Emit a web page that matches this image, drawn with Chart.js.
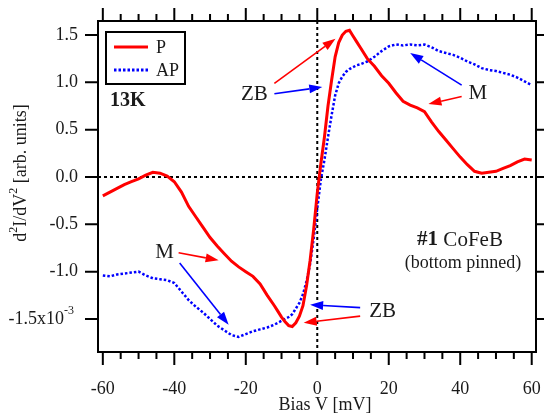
<!DOCTYPE html>
<html>
<head>
<meta charset="utf-8">
<script src="https://cdn.jsdelivr.net/npm/chart.js@4.4.0/dist/chart.umd.min.js"></script>
<style>
  html, body { margin: 0; padding: 0; background: #fff; }
  #wrap { width: 544px; height: 419px; }
</style>
</head>
<body>
<div id="wrap"><canvas id="iets"></canvas></div>
<script>
// Bias voltage (mV), finer steps around zero bias
const biasV = [-60, -58, -56, -54, -52, -50, -48, -46, -44, -42, -40, -38, -36, -34, -32, -30, -28, -26, -24, -22, -20, -18, -16, -14,
    -12, -11, -10, -9, -8, -7, -6, -5, -4, -3, -2, -1, 0, 1, 2, 3, 4, 5, 6, 7, 8, 9, 10, 11, 12,
    14, 16, 18, 20, 22, 24, 26, 28, 30, 32, 34, 36, 38, 40, 42, 44, 46, 48, 50, 52, 54, 56, 58, 60];

// d2I/dV2 in units of 1e-3
const pCurve = [-0.20, -0.16, -0.12, -0.08, -0.05, -0.02, 0.02, 0.05, 0.04, 0.01, -0.05, -0.16, -0.31, -0.42, -0.53, -0.64, -0.73, -0.81, -0.89, -0.95, -1.00, -1.05, -1.13, -1.25,
    -1.36, -1.42, -1.48, -1.53, -1.57, -1.58, -1.54, -1.47, -1.36, -1.15, -0.88, -0.55, -0.17, 0.14, 0.42, 0.75, 1.02, 1.27, 1.42, 1.50, 1.54, 1.55, 1.49, 1.43, 1.37,
    1.25, 1.17, 1.07, 0.99, 0.89, 0.80, 0.76, 0.73, 0.69, 0.58, 0.48, 0.39, 0.30, 0.21, 0.13, 0.06, 0.04, 0.05, 0.06, 0.09, 0.12, 0.16, 0.19, 0.18];

const apCurve = [-1.04, -1.05, -1.03, -1.02, -1.01, -1.00, -1.04, -1.07, -1.08, -1.09, -1.12, -1.21, -1.30, -1.37, -1.43, -1.50, -1.57, -1.62, -1.67, -1.69, -1.66, -1.63, -1.61, -1.59,
    -1.56, -1.54, -1.52, -1.50, -1.48, -1.45, -1.39, -1.33, -1.24, -1.10, -0.92, -0.65, -0.33, -0.03, 0.18, 0.42, 0.65, 0.86, 0.99, 1.06, 1.11, 1.14, 1.16, 1.18, 1.19,
    1.22, 1.27, 1.33, 1.38, 1.40, 1.39, 1.40, 1.39, 1.40, 1.37, 1.33, 1.31, 1.29, 1.26, 1.22, 1.19, 1.15, 1.13, 1.12, 1.10, 1.08, 1.05, 1.01, 0.97];

const xTicks = [-60, -40, -20, 0, 20, 40, 60];
const xMinorTicks = [-55, -50, -45, -35, -30, -25, -15, -10, -5, 5, 10, 15, 25, 30, 35, 45, 50, 55];
const yTicks = [-1.5, -1.0, -0.5, 0.0, 0.5, 1.0, 1.5];

// labels and arrows, placed in data coordinates
const notes = [
    { text: 'ZB', v: -17.6, val: 0.87 },
    { text: 'M', v: 44.9, val: 0.88 },
    { text: 'M', v: -42.7, val: -0.80 },
    { text: 'ZB', v: 18.3, val: -1.42 }
];
const arrows = [
    { from: [-12.0, 0.99], to: [5.1, 1.46], color: '#ff0000' },
    { from: [-12.0, 0.88], to: [1.4, 0.95], color: '#0000ff' },
    { from: [40.4, 0.97], to: [26.0, 1.31], color: '#0000ff' },
    { from: [40.4, 0.85], to: [31.1, 0.77], color: '#ff0000' },
    { from: [-38.8, -0.80], to: [-27.6, -0.88], color: '#ff0000' },
    { from: [-38.5, -0.91], to: [-24.8, -1.56], color: '#0000ff' },
    { from: [12.0, -1.38], to: [-2.0, -1.35], color: '#0000ff' },
    { from: [12.0, -1.47], to: [-3.8, -1.54], color: '#ff0000' }
];

const serif = '"Liberation Serif", "Times New Roman", serif';
const ink = '#1a1a1a';

function toPoints(ys) {
    return biasV.map((v, i) => ({ x: v, y: ys[i] }));
}

// keep the plot frame where the reference has it
function pinAxis(scale, size) {
    if (scale.isHorizontal()) scale.height = size;
    else scale.width = size;
    scale.paddingLeft = 0;
    scale.paddingRight = 0;
    scale.paddingTop = 0;
    scale.paddingBottom = 0;
}

function drawArrow(ctx, x1, y1, x2, y2, color) {
    const a = Math.atan2(y2 - y1, x2 - x1);
    const len = 13, half = 4.5;
    const bx = x2 - len * Math.cos(a), by = y2 - len * Math.sin(a);
    ctx.save();
    ctx.strokeStyle = color;
    ctx.fillStyle = color;
    ctx.lineWidth = 1.6;
    ctx.beginPath();
    ctx.moveTo(x1, y1);
    ctx.lineTo(bx, by);
    ctx.stroke();
    ctx.beginPath();
    ctx.moveTo(x2, y2);
    ctx.lineTo(bx + half * Math.sin(a), by - half * Math.cos(a));
    ctx.lineTo(bx - half * Math.sin(a), by + half * Math.cos(a));
    ctx.closePath();
    ctx.fill();
    ctx.restore();
}

const decor = {
    id: 'decor',
    beforeDatasetsDraw(chart) {
        const { ctx, chartArea: a, scales: { x, y } } = chart;
        const x0 = x.getPixelForValue(0), y0 = y.getPixelForValue(0);
        ctx.save();
        ctx.strokeStyle = '#000';
        ctx.lineWidth = 2;
        ctx.setLineDash([3, 3]);
        ctx.beginPath();
        ctx.moveTo(x0, a.top);
        ctx.lineTo(x0, a.bottom);
        ctx.moveTo(a.left, y0);
        ctx.lineTo(a.right, y0);
        ctx.stroke();
        ctx.restore();
    },
    afterDraw(chart) {
        const { ctx, chartArea: a, scales: { x, y } } = chart;
        ctx.save();

        // frame
        ctx.strokeStyle = '#000';
        ctx.lineWidth = 2;
        ctx.strokeRect(a.left, a.top, a.right - a.left, a.bottom - a.top);

        // outward ticks on all four sides
        ctx.beginPath();
        xTicks.concat(xMinorTicks).forEach(v => {
            const px = x.getPixelForValue(v);
            const len = xTicks.includes(v) ? 13 : 7;
            ctx.moveTo(px, a.bottom);
            ctx.lineTo(px, a.bottom + len);
            ctx.moveTo(px, a.top);
            ctx.lineTo(px, a.top - len);
        });
        yTicks.forEach(v => {
            const py = y.getPixelForValue(v);
            ctx.moveTo(a.left, py);
            ctx.lineTo(a.left - 13, py);
            ctx.moveTo(a.right, py);
            ctx.lineTo(a.right + 13, py);
        });
        ctx.stroke();

        // bottom y tick label with exponent
        const yb = y.getPixelForValue(-1.5);
        ctx.fillStyle = ink;
        ctx.textBaseline = 'middle';
        ctx.textAlign = 'right';
        ctx.font = '18px ' + serif;
        ctx.fillText('-1.5x10', 64, yb);
        ctx.textAlign = 'left';
        ctx.font = '12px ' + serif;
        ctx.fillText('-3', 64, yb - 8);

        // axis titles
        ctx.font = '18px ' + serif;
        ctx.textAlign = 'center';
        ctx.fillText('Bias V [mV]', 325, 405);

        ctx.save();
        ctx.translate(21, 173);
        ctx.rotate(-Math.PI / 2);
        const parts = [['d', 18, 0], ['2', 12, -7], ['I/dV', 18, 0], ['2', 12, -7], [' [arb. units]', 18, 0]];
        let total = 0;
        parts.forEach(p => { ctx.font = p[1] + 'px ' + serif; total += ctx.measureText(p[0]).width; });
        let cx = -total / 2;
        ctx.textAlign = 'left';
        parts.forEach(p => {
            ctx.font = p[1] + 'px ' + serif;
            ctx.fillText(p[0], cx, p[2]);
            cx += ctx.measureText(p[0]).width;
        });
        ctx.restore();

        // legend box
        const lx = a.left + 8, ly = a.top + 11;
        ctx.lineWidth = 2;
        ctx.strokeStyle = '#000';
        ctx.strokeRect(lx, ly, 79, 52);
        ctx.lineWidth = 3;
        ctx.strokeStyle = '#ff0000';
        ctx.beginPath();
        ctx.moveTo(lx + 8, ly + 15);
        ctx.lineTo(lx + 42, ly + 15);
        ctx.stroke();
        ctx.strokeStyle = '#0000ff';
        ctx.setLineDash([2.5, 2]);
        ctx.beginPath();
        ctx.moveTo(lx + 8, ly + 38);
        ctx.lineTo(lx + 42, ly + 38);
        ctx.stroke();
        ctx.setLineDash([]);
        ctx.fillStyle = ink;
        ctx.font = '18px ' + serif;
        ctx.textAlign = 'left';
        ctx.fillText('P', lx + 50, ly + 16);
        ctx.fillText('AP', lx + 50, ly + 39);

        // temperature
        ctx.font = 'bold 20px ' + serif;
        ctx.fillText('13K', a.left + 12, a.top + 80);

        // sample label
        ctx.font = 'bold 21px ' + serif;
        const w1 = ctx.measureText('#1 ').width;
        ctx.font = '21px ' + serif;
        const w2 = ctx.measureText('CoFeB').width;
        const sx = 460 - (w1 + w2) / 2;
        ctx.font = 'bold 21px ' + serif;
        ctx.fillText('#1 ', sx, 240);
        ctx.font = '21px ' + serif;
        ctx.fillText('CoFeB', sx + w1, 240);
        ctx.font = '18px ' + serif;
        ctx.textAlign = 'center';
        ctx.fillText('(bottom pinned)', 463, 263);

        // peak labels and arrows
        ctx.font = '21px ' + serif;
        notes.forEach(n => {
            ctx.fillText(n.text, x.getPixelForValue(n.v), y.getPixelForValue(n.val));
        });
        arrows.forEach(ar => {
            drawArrow(ctx,
                x.getPixelForValue(ar.from[0]), y.getPixelForValue(ar.from[1]),
                x.getPixelForValue(ar.to[0]), y.getPixelForValue(ar.to[1]), ar.color);
        });

        ctx.restore();
    }
};

const ctx = document.getElementById('iets').getContext('2d');
const chart = new Chart(ctx, {
    type: 'line',
    data: {
        datasets: [{
            label: 'P',
            data: toPoints(pCurve),
            borderColor: '#ff0000',
            borderWidth: 3,
            pointRadius: 0,
            tension: 0,
            fill: false
        }, {
            label: 'AP',
            data: toPoints(apCurve),
            borderColor: '#0000ff',
            borderWidth: 2.5,
            borderDash: [2.5, 2],
            pointRadius: 0,
            tension: 0,
            fill: false
        }]
    },
    options: {
        responsive: true,
        maintainAspectRatio: false,
        animation: false,
        devicePixelRatio: 1,
        layout: {
            padding: { top: 21, right: 8, left: 0, bottom: 0 }
        },
        plugins: {
            legend: { display: false },
            tooltip: { enabled: false }
        },
        scales: {
            x: {
                type: 'linear',
                min: -61.35,
                max: 61.2,
                grid: { display: false, drawTicks: false },
                border: { display: false },
                afterBuildTicks: scale => { scale.ticks = xTicks.map(v => ({ value: v })); },
                afterFit: scale => pinAxis(scale, 67),
                ticks: {
                    color: ink,
                    padding: 26,
                    maxRotation: 0,
                    font: { family: serif, size: 18 },
                    callback: v => String(v)
                }
            },
            y: {
                type: 'linear',
                min: -1.849,
                max: 1.648,
                grid: { display: false, drawTicks: false },
                border: { display: false },
                afterBuildTicks: scale => { scale.ticks = yTicks.map(v => ({ value: v })); },
                afterFit: scale => pinAxis(scale, 98),
                ticks: {
                    color: ink,
                    padding: 20,
                    font: { family: serif, size: 18 },
                    callback: v => (v === -1.5 ? '' : v.toFixed(1))
                }
            }
        }
    },
    plugins: [decor]
});
</script>
</body>
</html>
